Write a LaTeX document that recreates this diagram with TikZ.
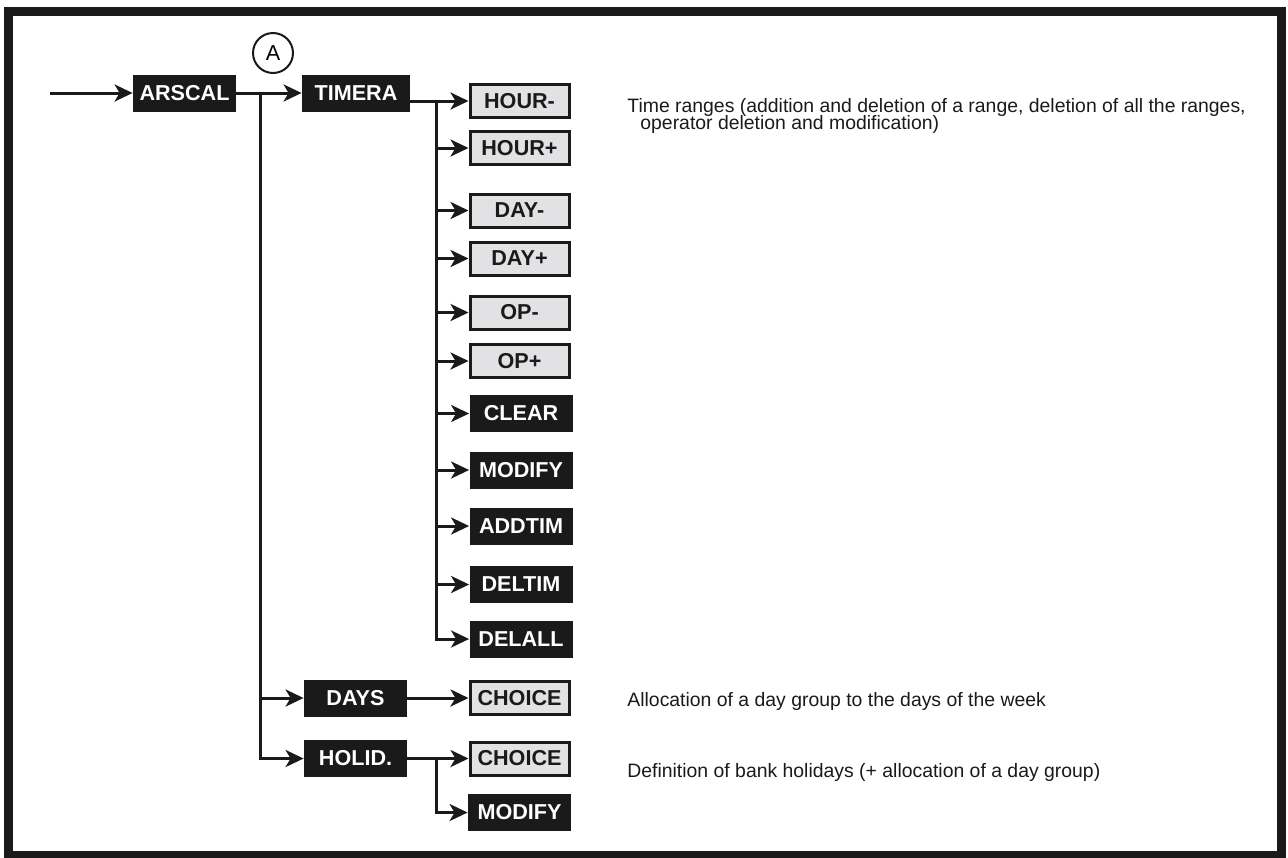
\documentclass[tikz,border=0pt]{standalone}
\usepackage{fontspec}
\setmainfont{Liberation Sans}
\usetikzlibrary{arrows.meta,positioning}
\definecolor{Ink}{HTML}{1A1A1A}
\definecolor{Pale}{HTML}{E2E2E4}

\begin{document}
\begin{tikzpicture}[x=0.5pt,y=-0.5pt,
    blk/.style={fill=Ink,text=white,minimum width=51.5pt,minimum height=18.5pt,inner sep=0pt,font=\fontsize{10.8}{12}\selectfont\bfseries},
    lgt/.style={draw=Ink,line width=1.5pt,fill=Pale,text=Ink,minimum width=49.5pt,minimum height=16.5pt,inner sep=0pt,font=\fontsize{10.8}{12}\selectfont\bfseries},
    txt/.style={anchor=base west,align=left,inner sep=0pt,text=Ink,font={\fontsize{9.7}{8.5}\selectfont\lineskiplimit-20pt\relax}},
    a/.style={-{Stealth[length=9pt,width=8.5pt,inset=2.5pt]},line width=1.5pt,draw=Ink}]
    \useasboundingbox (0,0) rectangle (1288,857);
    \draw[line width=4.5pt,draw=Ink] (8.5,11) rectangle (1281,855);
    \node[blk] (arscal) at (184.5,93) {ARSCAL};
    \node[blk,minimum width=54pt] (timera) at (356,93) {TIMERA};
    \node[circle,draw=Ink,line width=1pt,minimum size=20pt,inner sep=0pt,font=\fontsize{10.8}{12}\selectfont] (mA) at (273,53) {A};
    \node[lgt] (hourm) at (519.5,101) {HOUR-};
    \node[lgt] (hourp) at (519.5,148) {HOUR+};
    \node[lgt] (daym) at (519.5,210.5) {DAY-};
    \node[lgt] (dayp) at (519.5,258.5) {DAY+};
    \node[lgt] (opm) at (519.5,312.5) {OP-};
    \node[lgt] (opp) at (519.5,361) {OP+};
    \node[blk] (clear) at (521,413.5) {CLEAR};
    \node[blk] (modify) at (521,470) {MODIFY};
    \node[blk] (addtim) at (521,526) {ADDTIM};
    \node[blk] (deltim) at (521,584.5) {DELTIM};
    \node[blk] (delall) at (521,639) {DELALL};
    \node[blk] (days) at (355.5,698) {DAYS};
    \node[lgt] (choiced) at (519.5,698) {CHOICE};
    \node[blk] (holid) at (355.5,758.5) {HOLID.};
    \node[lgt] (choiceh) at (519.5,758.5) {CHOICE};
    \node[blk] (modifyh) at (519.5,812.5) {MODIFY};
    \node[txt] (trng) at (627,129) {Time ranges (addition and deletion of a range, deletion of all the ranges,\\\hspace*{6.5pt}operator deletion and modification)};
    \node[txt] (aloc) at (627,706) {Allocation of a day group to the days of the week};
    \node[txt] (bank) at (627,777) {Definition of bank holidays (+ allocation of a day group)};
    \coordinate (in) at (50,93);
    \coordinate (j1) at (260,93);
    \coordinate (j2) at (436,101);
    \coordinate (j3) at (436,758.5);
    \draw[a] (in) -- (arscal);
    \draw[a] (arscal) -- (timera);
    \draw[a] (j1) |- (days);
    \draw[a] (j1) |- (holid);
    \draw[a] (timera.east |- hourm) -- (hourm);
    \foreach \n in {hourp,daym,dayp,opm,opp,clear,modify,addtim,deltim,delall}
      \draw[a] (j2) |- (\n);
    \draw[a] (days) -- (choiced);
    \draw[a] (holid) -- (choiceh);
    \draw[a] (j3) |- (modifyh);
  \end{tikzpicture}
\end{document}
